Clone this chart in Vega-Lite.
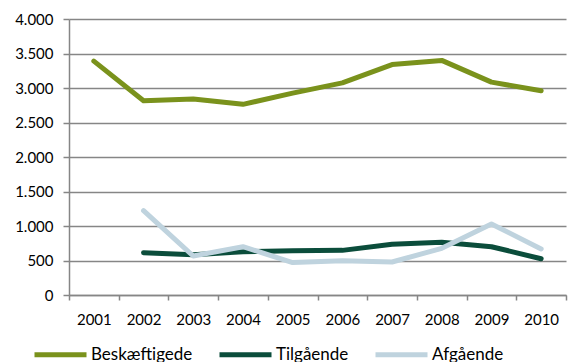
{
  "$schema": "https://vega.github.io/schema/vega-lite/v6.json",
  "width": 497,
  "height": 276,
  "autosize": {"type": "none"},
  "padding": {"left": 69, "top": 19, "right": 2, "bottom": 67},
  "background": "white",
  "config": {
    "locale": {"number": {"decimal": ",", "thousands": ".", "grouping": [3], "currency": ["", ""]}},
    "view": {"stroke": null},
    "font": "Lato"
  },
  "data": {
    "values": [
      {"year": "2001", "series": "Beskæftigede", "value": 3390},
      {"year": "2002", "series": "Beskæftigede", "value": 2815},
      {"year": "2003", "series": "Beskæftigede", "value": 2840},
      {"year": "2004", "series": "Beskæftigede", "value": 2763},
      {"year": "2005", "series": "Beskæftigede", "value": 2925},
      {"year": "2006", "series": "Beskæftigede", "value": 3075},
      {"year": "2007", "series": "Beskæftigede", "value": 3340},
      {"year": "2008", "series": "Beskæftigede", "value": 3400},
      {"year": "2009", "series": "Beskæftigede", "value": 3085},
      {"year": "2010", "series": "Beskæftigede", "value": 2960},
      {"year": "2002", "series": "Tilgående", "value": 613},
      {"year": "2003", "series": "Tilgående", "value": 585},
      {"year": "2004", "series": "Tilgående", "value": 628},
      {"year": "2005", "series": "Tilgående", "value": 642},
      {"year": "2006", "series": "Tilgående", "value": 647},
      {"year": "2007", "series": "Tilgående", "value": 735},
      {"year": "2008", "series": "Tilgående", "value": 765},
      {"year": "2009", "series": "Tilgående", "value": 700},
      {"year": "2010", "series": "Tilgående", "value": 526},
      {"year": "2002", "series": "Afgående", "value": 1222},
      {"year": "2003", "series": "Afgående", "value": 565},
      {"year": "2004", "series": "Afgående", "value": 700},
      {"year": "2005", "series": "Afgående", "value": 470},
      {"year": "2006", "series": "Afgående", "value": 497},
      {"year": "2007", "series": "Afgående", "value": 478},
      {"year": "2008", "series": "Afgående", "value": 677},
      {"year": "2009", "series": "Afgående", "value": 1029},
      {"year": "2010", "series": "Afgående", "value": 667}
    ]
  },
  "mark": {"type": "line", "strokeWidth": 5, "strokeCap": "round", "strokeJoin": "round"},
  "encoding": {
    "x": {
      "field": "year",
      "type": "ordinal",
      "scale": {"type": "band", "paddingInner": 0, "paddingOuter": 0},
      "axis": {
        "title": null,
        "labelAngle": 0,
        "tickBand": "extent",
        "grid": false,
        "domainColor": "#868686",
        "domainWidth": 1.5,
        "tickColor": "#868686",
        "tickWidth": 1.5,
        "tickSize": 5,
        "labelFontSize": 15,
        "labelColor": "#000000",
        "labelPadding": 12
      }
    },
    "y": {
      "field": "value",
      "type": "quantitative",
      "scale": {"domain": [0, 4000]},
      "axis": {
        "title": null,
        "values": [0, 500, 1000, 1500, 2000, 2500, 3000, 3500, 4000],
        "format": ",d",
        "grid": true,
        "gridColor": "#868686",
        "gridWidth": 1.5,
        "domainColor": "#868686",
        "domainWidth": 1.5,
        "tickColor": "#868686",
        "tickWidth": 1.5,
        "tickSize": 6,
        "labelFontSize": 15,
        "labelColor": "#000000",
        "labelPadding": 10
      }
    },
    "color": {
      "field": "series",
      "type": "nominal",
      "scale": {
        "domain": ["Beskæftigede", "Tilgående", "Afgående"],
        "range": ["#7A921C", "#0B4D3B", "#BFD3DE"]
      },
      "legend": {
        "title": null,
        "orient": "none",
        "direction": "horizontal",
        "legendX": -37,
        "legendY": 307,
        "symbolType": "stroke",
        "symbolSize": 2704,
        "symbolStrokeWidth": 5,
        "labelFontSize": 17,
        "labelColor": "#000000",
        "labelOffset": 2,
        "columnPadding": 16
      }
    }
  }
}
